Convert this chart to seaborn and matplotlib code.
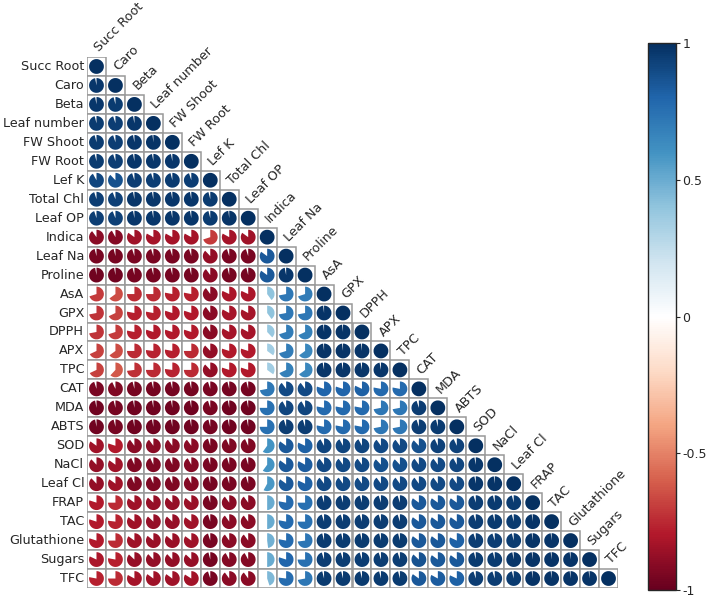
import matplotlib
matplotlib.use("Agg")
import matplotlib.pyplot as plt
from matplotlib.patches import Wedge, Rectangle
from matplotlib.colors import Normalize
from matplotlib.cm import ScalarMappable
import seaborn as sns
import numpy as np
import pandas as pd

# variables, in plot order
names = ["Succ Root", "Caro", "Beta", "Leaf number", "FW Shoot", "FW Root", "Lef K",
         "Total Chl", "Leaf OP", "Indica", "Leaf Na", "Proline", "AsA", "GPX", "DPPH",
         "APX", "TPC", "CAT", "MDA", "ABTS", "SOD", "NaCl", "Leaf Cl", "FRAP", "TAC",
         "Glutathione", "Sugars", "TFC"]

# lower triangle of the correlation matrix (row i -> columns 0..i-1)
lower_rows = [
    [],
    [0.97],
    [0.97, 0.96],
    [0.96, 0.95, 0.97],
    [0.96, 0.95, 0.97, 0.98],
    [0.96, 0.95, 0.97, 0.97, 0.97],
    [0.92, 0.88, 0.95, 0.95, 0.96, 0.95],
    [0.95, 0.94, 0.97, 0.97, 0.97, 0.97, 0.96],
    [0.95, 0.94, 0.97, 0.97, 0.97, 0.97, 0.96, 0.98],
    [-0.9, -0.92, -0.85, -0.83, -0.83, -0.83, -0.7, -0.83, -0.85],
    [-0.96, -0.96, -0.95, -0.95, -0.95, -0.95, -0.88, -0.95, -0.95, 0.85],
    [-0.97, -0.97, -0.96, -0.96, -0.96, -0.96, -0.9, -0.96, -0.96, 0.85, 0.97],
    [-0.7, -0.65, -0.75, -0.75, -0.78, -0.78, -0.9, -0.82, -0.82, 0.4, 0.72, 0.7],
    [-0.72, -0.68, -0.78, -0.78, -0.8, -0.8, -0.9, -0.83, -0.83, 0.4, 0.72, 0.72, 0.98],
    [-0.72, -0.7, -0.78, -0.8, -0.8, -0.8, -0.9, -0.83, -0.83, 0.38, 0.7, 0.68, 0.98, 0.98],
    [-0.68, -0.65, -0.75, -0.77, -0.78, -0.75, -0.88, -0.8, -0.8, 0.35, 0.7, 0.65, 0.98, 0.98, 0.98],
    [-0.68, -0.62, -0.73, -0.75, -0.77, -0.75, -0.88, -0.8, -0.8, 0.35, 0.68, 0.65, 0.97, 0.97, 0.97, 0.97],
    [-0.95, -0.93, -0.96, -0.96, -0.96, -0.96, -0.95, -0.96, -0.96, 0.72, 0.9, 0.9,
     0.8, 0.8, 0.82, 0.78, 0.78],
    [-0.97, -0.96, -0.97, -0.97, -0.97, -0.97, -0.95, -0.97, -0.97, 0.75, 0.92, 0.92,
     0.78, 0.78, 0.78, 0.72, 0.72, 0.95],
    [-0.97, -0.96, -0.97, -0.97, -0.97, -0.97, -0.96, -0.97, -0.97, 0.75, 0.95, 0.95,
     0.78, 0.78, 0.78, 0.72, 0.72, 0.95, 0.96],
    [-0.85, -0.8, -0.9, -0.9, -0.9, -0.9, -0.95, -0.93, -0.93, 0.6, 0.85, 0.82,
     0.92, 0.92, 0.92, 0.9, 0.9, 0.88, 0.93, 0.93],
    [-0.88, -0.85, -0.93, -0.93, -0.93, -0.92, -0.95, -0.95, -0.95, 0.6, 0.85, 0.83,
     0.9, 0.9, 0.9, 0.88, 0.88, 0.9, 0.9, 0.92, 0.97],
    [-0.88, -0.85, -0.93, -0.93, -0.93, -0.92, -0.96, -0.95, -0.95, 0.58, 0.85, 0.82,
     0.9, 0.9, 0.9, 0.9, 0.9, 0.9, 0.9, 0.9, 0.97, 0.98],
    [-0.8, -0.75, -0.85, -0.87, -0.87, -0.86, -0.95, -0.9, -0.9, 0.5, 0.78, 0.75,
     0.95, 0.95, 0.95, 0.95, 0.95, 0.85, 0.85, 0.85, 0.95, 0.96, 0.96],
    [-0.8, -0.77, -0.85, -0.87, -0.87, -0.85, -0.95, -0.9, -0.9, 0.5, 0.78, 0.75,
     0.95, 0.95, 0.95, 0.95, 0.95, 0.85, 0.85, 0.85, 0.95, 0.96, 0.96, 0.98],
    [-0.8, -0.75, -0.85, -0.86, -0.86, -0.85, -0.95, -0.9, -0.9, 0.48, 0.78, 0.73,
     0.96, 0.96, 0.96, 0.96, 0.96, 0.85, 0.85, 0.82, 0.95, 0.95, 0.96, 0.98, 0.98],
    [-0.82, -0.78, -0.87, -0.88, -0.88, -0.87, -0.96, -0.92, -0.92, 0.5, 0.8, 0.75,
     0.95, 0.95, 0.95, 0.95, 0.95, 0.87, 0.85, 0.85, 0.96, 0.96, 0.97, 0.98, 0.98, 0.98],
    [-0.78, -0.75, -0.83, -0.85, -0.85, -0.84, -0.95, -0.9, -0.9, 0.45, 0.77, 0.72,
     0.96, 0.96, 0.96, 0.96, 0.96, 0.85, 0.83, 0.82, 0.95, 0.95, 0.96, 0.98, 0.98, 0.98, 0.98],
]

cbar_ticks = [-1, -0.5, 0, 0.5, 1]
cbar_labels = ["-1", "-0.5", "0", "0.5", "1"]

# corrplot style RdBu palette
rdbu = ["#67001F", "#B2182B", "#D6604D", "#F4A582", "#FDDBC7", "#FFFFFF",
        "#D1E5F0", "#92C5DE", "#4393C3", "#2166AC", "#053061"]

sns.set_style("white")
plt.rcParams['font.family'] = ['DejaVu Sans']

n = len(names)
mat = np.eye(n)
for i, row in enumerate(lower_rows):
    for j, v in enumerate(row):
        mat[i, j] = v
        mat[j, i] = v
corr = pd.DataFrame(mat, index=names, columns=names)

cmap = sns.blend_palette(rdbu, as_cmap=True)
norm = Normalize(-1, 1)

fig = plt.figure(figsize=(7.1, 6.03), dpi=100)
ax = fig.add_axes([86 / 710, 1 - 588 / 603, 533 / 710, 531 / 603])
ax.set_xlim(-0.5, n - 0.5)
ax.set_ylim(-0.5, n - 0.5)
ax.set_aspect('equal')
ax.axis('off')

for i in range(n):
    y = n - 1 - i
    for j in range(i + 1):
        r = corr.iloc[i, j]
        ax.add_patch(Rectangle((j - 0.5, y - 0.5), 1, 1, facecolor='white',
                               edgecolor='#999999', linewidth=1.1))
        ax.add_patch(Wedge((j, y), 0.39, 90 - 360 * abs(r), 90,
                           facecolor=cmap(norm(r)), edgecolor='none'))
    # row label
    ax.text(-0.65, y, names[i], ha='right', va='center', fontsize=9.2)
    # column label above the diagonal cell
    ax.text(i + 0.15, y + 0.74, names[i], ha='left', va='baseline', fontsize=9.2,
            rotation=45, rotation_mode='anchor')

cax = fig.add_axes([648 / 710, 1 - 590 / 603, 28 / 710, 547 / 603])
sm = ScalarMappable(norm=norm, cmap=cmap)
cb = fig.colorbar(sm, cax=cax, ticks=cbar_ticks)
cb.ax.set_yticklabels(cbar_labels)
cb.ax.tick_params(labelsize=9, length=3, pad=1.5)
cb.outline.set_linewidth(1)

fig.savefig("out.png", dpi=100)
